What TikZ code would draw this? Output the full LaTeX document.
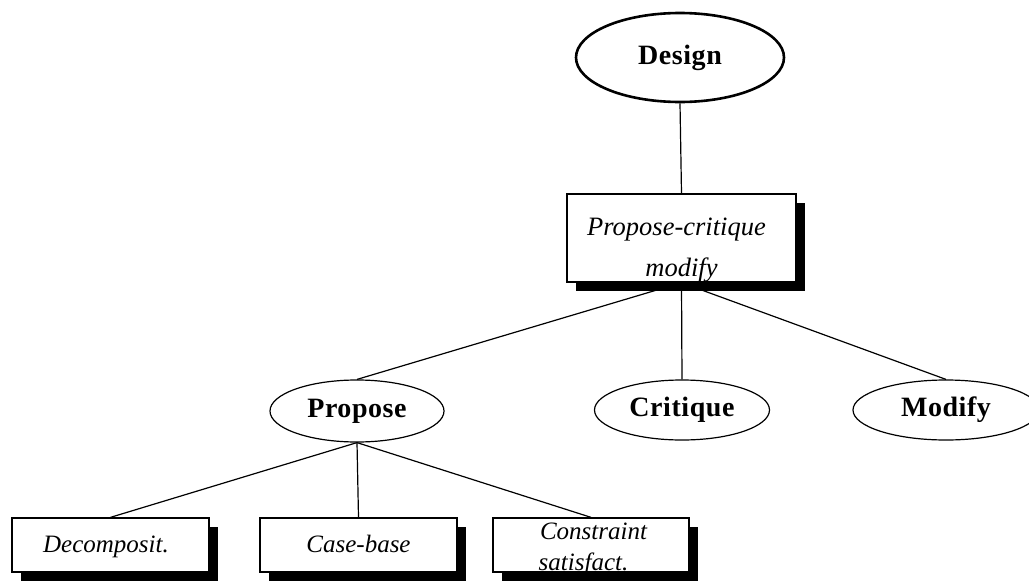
\documentclass[tikz,border=0pt]{standalone}
\usepackage{fontspec}
\setmainfont{Liberation Serif}
\newfontfamily\headfont[LetterSpace=2]{Liberation Serif}
\usetikzlibrary{shapes.geometric,shadows,backgrounds}

\tikzset{
  oval/.style={ellipse, draw, line width=1.2pt, fill=white, inner sep=0pt,
    minimum width=176, minimum height=60,
    font=\headfont\bfseries\fontsize{28}{32}\selectfont},
  topoval/.style={oval, line width=2.6pt},
  shadowbox/.style={rectangle, draw, line width=1.3pt, fill=white, inner sep=0pt,
    drop shadow={shadow xshift=9pt, shadow yshift=-9pt, fill=black, opacity=1}},
  itlabel/.style={anchor=base, inner sep=0pt,
    font=\itshape\fontsize{25}{30}\selectfont},
  link/.style={line width=1.2pt},
}

\begin{document}
\begin{tikzpicture}[x=1pt,y=-1pt]
  \useasboundingbox (0,0) rectangle (1029,581);

  % top level
  \node[topoval, minimum width=208, minimum height=89] (design) at (680,57.5) {Design};

  % strategy box
  \node[shadowbox, minimum width=229, minimum height=88] (pcm) at (681.5,238) {};
  \node[itlabel, font=\itshape\fontsize{26.5}{30}\selectfont] (pcmA) at (676.5,235) {Propose-critique};
  \node[itlabel, font=\itshape\fontsize{26.5}{30}\selectfont] (pcmB) at (681.5,276) {modify};

  % subtasks
  \node[oval, minimum width=174, minimum height=62] (propose) at (357,411) {Propose};
  \node[oval, minimum width=175] (critique) at (682,410) {Critique};
  \node[oval, minimum width=186] (modify) at (946,410) {Modify};

  % methods for propose
  \node[shadowbox, minimum width=197, minimum height=54] (dec) at (110.5,545) {};
  \node[itlabel] (decT) at (106,552) {Decomposit.};
  \node[shadowbox, minimum width=197, minimum height=54] (cb) at (358.5,545) {};
  \node[itlabel] (cbT) at (358.5,552) {Case-base};
  \node[shadowbox, minimum width=196, minimum height=54] (cs) at (591,545) {};
  \node[itlabel] (csA) at (593.5,539) {Constraint};
  \node[itlabel] (csB) at (583.5,570) {satisfact.};

  % connectors behind the nodes and their shadows
  \begin{scope}[on background layer]
    \draw[link] (design.south) -- (pcm.north);
    \draw[link] (pcm.south) -- (propose.north);
    \draw[link] (pcm.south) -- (critique.north);
    \draw[link] (pcm.south) -- (modify.north);
    \draw[link] (propose.south) -- (dec.north);
    \draw[link] (propose.south) -- (cb.north);
    \draw[link] (propose.south) -- (cs.north);
  \end{scope}
\end{tikzpicture}
\end{document}
